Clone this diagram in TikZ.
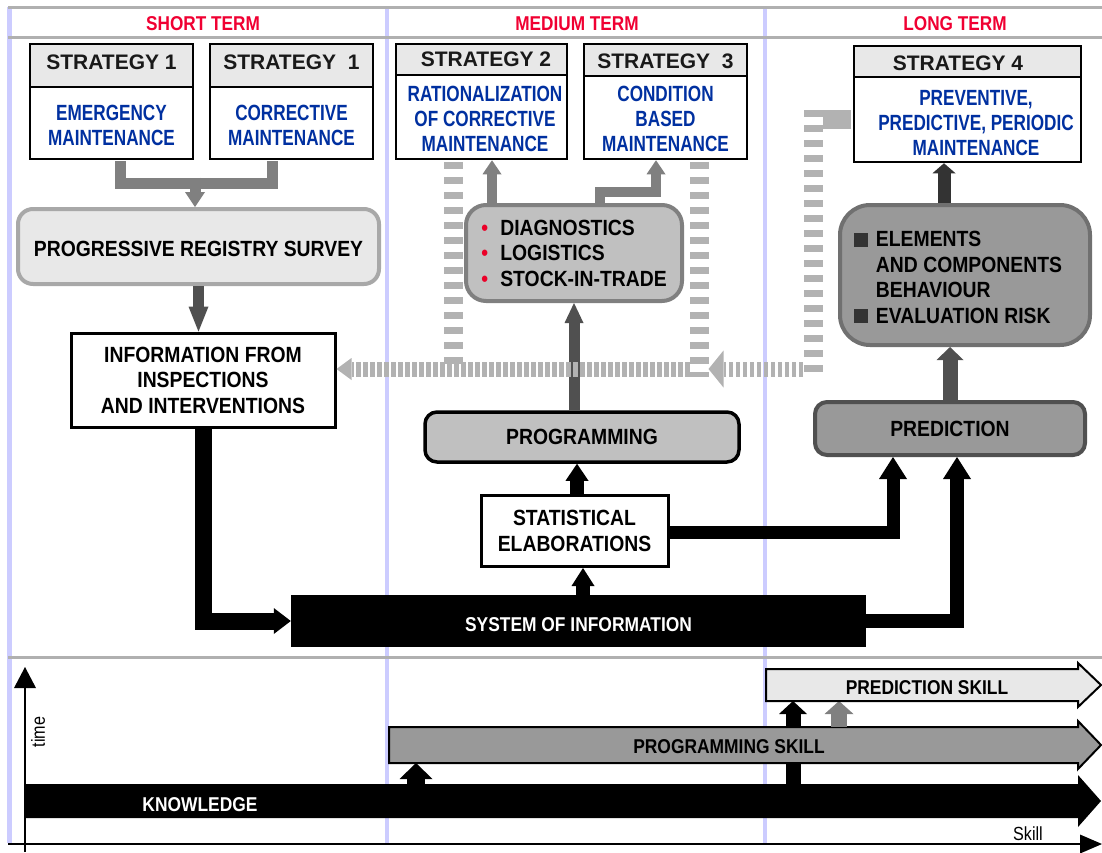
\documentclass[tikz,border=0pt]{standalone}
\usepackage{fontspec}
\setmainfont{Liberation Sans}
\newfontfamily\fwide{Liberation Sans}
\newfontfamily\fbody[FakeStretch=0.88]{Liberation Sans}
\newfontfamily\fband[FakeStretch=0.87]{Liberation Sans}
\newfontfamily\fnarrow[FakeStretch=0.78]{Liberation Sans}
\newfontfamily\fterm[FakeStretch=0.86]{Liberation Sans}
\newfontfamily\faxis[FakeStretch=0.85]{Liberation Sans}
\usetikzlibrary{arrows.meta,calc}

\definecolor{termred}{RGB}{240,0,50}
\definecolor{stratblue}{RGB}{0,48,160}
\definecolor{lane}{RGB}{204,204,255}
\definecolor{rulegray}{RGB}{176,176,176}
\definecolor{hdrfill}{RGB}{232,232,232}
\definecolor{prsborder}{RGB}{168,168,168}
\definecolor{linkgray}{RGB}{128,128,128}
\definecolor{linkdark}{RGB}{80,80,80}
\definecolor{linkdarker}{RGB}{51,51,51}
\definecolor{feedgray}{RGB}{178,178,178}
\definecolor{diagfill}{RGB}{192,192,192}
\definecolor{predfill}{RGB}{153,153,153}
\definecolor{elemborder}{RGB}{112,112,112}
\definecolor{dotred}{RGB}{235,0,40}

\newcommand{\bul}{\makebox[19pt][l]{\textcolor{dotred}{\textbullet}}}
\newcommand{\sqmark}{\makebox[22pt][l]{\textcolor{linkdarker}{\rule{14pt}{14pt}}}}
% shift text vertically without changing its reported size
\newcommand{\lift}[2]{\raisebox{#1}[\height][\depth]{#2}}

\tikzset{
  headed/.style n args={2}{-{Triangle[length=#1,width=#2,line width=0pt]}},
  termlabel/.style={inner sep=0pt, text=termred, font=\fterm\bfseries\fontsize{20}{22}\selectfont},
  hdrbox/.style={draw=black, line width=2.5pt, fill=hdrfill, inner sep=0pt,
    text=black!90, font=\fwide\bfseries\fontsize{21}{25}\selectfont},
  bodybox/.style={draw=black, line width=2.5pt, fill=white, inner sep=0pt},
  bluetext/.style={inner sep=0pt, align=center, text=stratblue,
    font=\fnarrow\bfseries\fontsize{22}{25}\selectfont},
  bodyfont/.style={inner sep=0pt, text=black,
    font=\fbody\bfseries\fontsize{22}{25.5}\selectfont},
  bandtxt/.style={inner sep=0pt, font=\fband\bfseries\fontsize{20}{22}\selectfont},
  axislabel/.style={inner sep=0pt, font=\faxis\fontsize{19}{22}\selectfont},
  vdash/.style={draw=feedgray, line width=19pt, dash pattern=on 7pt off 8pt},
  hdash/.style={draw=feedgray, line width=15pt, dash pattern=on 4.5pt off 2.5pt},
}

\begin{document}
\begin{tikzpicture}[x=1pt,y=-1pt]
\useasboundingbox (0,0) rectangle (1102,852);

% column lanes and horizontal rules
\foreach \lx in {9.5,387,765} \draw[lane, line width=4.5pt] (\lx,7) -- (\lx,843);
\foreach \ly in {7,37,657} \draw[rulegray, line width=3pt] (8,\ly) -- (1102,\ly);

% column headings
\node[termlabel] (tshort) at (203,24) {SHORT TERM};
\node[termlabel] (tmedium) at (577,24) {MEDIUM TERM};
\node[termlabel] (tlong) at (955,24) {LONG TERM};

% strategy boxes
\node[bodybox, minimum width=163pt, minimum height=72pt] (s1b) at (111.5,123) {};
\node[bodybox, minimum width=163pt, minimum height=72pt] (s2b) at (291.5,123) {};
\node[bodybox, minimum width=171pt, minimum height=84pt] (s3b) at (481.5,117) {};
\node[bodybox, minimum width=163pt, minimum height=83pt] (s4b) at (665.5,117.5) {};
\node[bodybox, minimum width=227pt, minimum height=85pt] (s5b) at (967.5,119.5) {};

\node[hdrbox, minimum width=163pt, minimum height=43pt] (s1h) at (111.5,65.5) {\lift{3.5pt}{STRATEGY 1}};
\node[hdrbox, minimum width=163pt, minimum height=43pt] (s2h) at (291.5,65.5) {\lift{3.5pt}{STRATEGY\hspace{6pt} 1}};
\node[hdrbox, minimum width=171pt, minimum height=31pt] (s3h) at (481.5,59.5) {\hspace*{9pt}STRATEGY 2};
\node[hdrbox, minimum width=163pt, minimum height=32pt] (s4h) at (665.5,60) {\lift{-1.5pt}{STRATEGY\hspace{6pt} 3}};
\node[hdrbox, minimum width=227pt, minimum height=31pt] (s5h) at (967.5,61.5) {\hspace*{-19pt}\lift{-1.5pt}{STRATEGY 4}};

\node[bluetext] (s1t) at (111.5,125) {EMERGENCY\\MAINTENANCE};
\node[bluetext] (s2t) at (291.5,125) {CORRECTIVE\\MAINTENANCE};
\node[bluetext] (s3t) at (485,119) {RATIONALIZATION\\OF CORRECTIVE\\MAINTENANCE};
\node[bluetext] (s4t) at (665.5,119) {CONDITION\\BASED\\MAINTENANCE};
\node[bluetext] (s5t) at (976,123.5) {PREVENTIVE,\\PREDICTIVE, PERIODIC\\MAINTENANCE};

% process boxes
\path (198.5,246.5) coordinate (prsc) (203,380) coordinate (infoc)
      (574,253) coordinate (diagc) (965,275) coordinate (elemc)
      (582,437) coordinate (progc) (950,428.5) coordinate (predc)
      (574.5,531) coordinate (statc) (578.5,621) coordinate (sysc);

\node[bodyfont, draw=prsborder, line width=4pt, fill=hdrfill, rounded corners=15pt,
      minimum width=361pt, minimum height=75pt] (prs) at (prsc) {\lift{-2pt}{PROGRESSIVE REGISTRY SURVEY}};

\node[bodyfont, draw=black, line width=3pt, fill=white, align=center,
      minimum width=264pt, minimum height=94pt] (info) at (infoc)
      {INFORMATION FROM\\INSPECTIONS\\AND INTERVENTIONS};

\node[bodyfont, draw=black, line width=3pt, fill=white, align=center,
      minimum width=187pt, minimum height=71pt] (stat) at (statc)
      {STATISTICAL\\ELABORATIONS};

\node[bandtxt, fill=black, text=white, minimum width=575pt, minimum height=52pt]
      (sys) at (sysc) {\lift{-4pt}{SYSTEM OF INFORMATION}};

% links between the boxes
\coordinate (join1) at (195,183);
\draw[linkgray, line width=11pt] ($(s1b.south)+(8.5,1)$) |- (join1);
\draw[linkgray, line width=11pt] ($(s2b.south)+(-19.5,1)$) |- (join1);
\draw[linkgray, line width=11pt, headed={15pt}{20pt}] ($(join1)+(0,-5.5)$) -- (join1 |- prs.north);

\draw[linkdark, line width=11pt, headed={25pt}{20pt}] (prs.south) -- (prs.south |- info.north);
\draw[black, line width=17pt, headed={17pt}{26pt}] (info.south) |- (sys.west);

\node[bodyfont, draw=black, line width=3.5pt, fill=diagfill, rounded corners=12pt,
      minimum width=314pt, minimum height=50pt] (prog) at (progc) {PROGRAMMING};
\node[bodyfont, draw=linkdark, line width=4pt, fill=predfill, rounded corners=12pt,
      minimum width=270pt, minimum height=53pt] (pred) at (predc) {PREDICTION};

\draw[black, line width=14pt, headed={17pt}{23pt}] ($(stat.north)+(2.5,0)$) -- ($(prog.south)+(-5,0)$);
\draw[black, line width=14pt, headed={18pt}{23pt}] ($(sys.north)+(4.5,0)$) -- ($(stat.south)+(8.5,0)$);
\draw[black, line width=13pt, headed={22pt}{28pt}] ($(stat.east)+(0,1)$) -| ($(pred.south)+(-57,0)$);
\draw[black, line width=14pt, headed={22pt}{28pt}] (sys.east) -| ($(pred.south)+(7,0)$);

\node[bodyfont, draw=linkgray, line width=4pt, fill=diagfill, rounded corners=20pt, align=left,
      minimum width=216pt, minimum height=96pt] (diag) at (diagc)
      {\bul DIAGNOSTICS\\\bul LOGISTICS\\\bul STOCK-IN-TRADE};
\node[draw=elemborder, line width=4pt, fill=predfill, rounded corners=30pt,
      minimum width=250pt, minimum height=140pt] (elem) at (elemc) {};
\node[bodyfont, align=left] (elemt) at (958,277.5)
      {\sqmark ELEMENTS\\\hspace*{22pt}AND COMPONENTS\\\hspace*{22pt}BEHAVIOUR\\\sqmark EVALUATION RISK};

\draw[linkdark, line width=11pt, headed={20pt}{19pt}] ($(prog.north)+(-8,0)$) -- (diag.south);
\draw[linkgray, line width=10pt, headed={14pt}{19pt}] ($(diag.north)+(-82,0)$) -- ($(s3b.south)+(10.5,0)$);
\coordinate (bend4) at (656,192);
\draw[linkgray, line width=10pt, headed={14pt}{19pt}] ($(diag.north)+(26,0)$) |- (bend4) -- (bend4 |- s4b.south);
\draw[linkdark, line width=15pt, headed={13pt}{27pt}] (pred.north) -- (pred.north |- elem.south);
\draw[linkdarker, line width=13pt, headed={10pt}{23pt}] ($(elem.north)+(-21,0)$) -- ($(s5b.south)+(-23.5,0)$);

% feedback from the strategies to the inspection records
\coordinate (fC) at (453,369);
\coordinate (fB) at (699,369);
\coordinate (fA1) at (813,119.5);
\coordinate (fA2) at (813,369);
\draw[vdash] ($(s3b.south -| fC)+(0,1.5)$) -- (fC);
\draw[vdash] ($(s4b.south -| fB)+(0,1.5)$) -- ($(fB)+(0,8)$);
\draw[hdash, headed={15pt}{22pt}] ($(fB)+(-9.5,0)$) -- (fB -| info.east);
\draw[feedgray, line width=19pt] ($(s5b.west)+(-1.5,0)$) -- ($(fA1)+(10,0)$);
\draw[vdash] ($(fA1)+(0,-9.5)$) -- ($(fA2)+(0,9)$);
\draw[hdash, headed={15pt}{37pt}] ($(fA2)+(-10,0)$) -- ($(fB)+(9.5,0)$);

% skill bands
\coordinate (knA) at (416,784); \coordinate (psA) at (416,763);
\coordinate (knB) at (793,784); \coordinate (prB) at (793,701);
\coordinate (psC) at (839,727); \coordinate (prC) at (839,701);
\fill[black] (25,784) -- (1078,784) -- (1078,775) -- (1101,801) -- (1078,827) -- (1078,818) -- (25,818) -- cycle;
\draw[black, line width=15pt, headed={13pt}{28pt}] (knB) -- (prB);
\draw[black, line width=2pt, fill=predfill, line join=miter]
  (389,727) -- (1078,727) -- (1078,721) -- (1101,745) -- (1078,769) -- (1078,763) -- (389,763) -- cycle;
\draw[linkgray, line width=16pt, headed={13pt}{29pt}] (psC) -- (prC);
\draw[black, line width=2pt, fill=hdrfill, line join=miter]
  (766,669) -- (1078,669) -- (1078,663) -- (1101,685) -- (1078,707) -- (1078,701) -- (766,701) -- cycle;
\draw[black, line width=18pt, headed={16pt}{33pt}] (knA) -- (psA);

\node[bandtxt, text=white] (knowtxt) at (200,805) {KNOWLEDGE};
\node[bandtxt] (progtxt) at (729,747) {PROGRAMMING SKILL};
\node[bandtxt] (predtxt) at (927,688) {PREDICTION SKILL};

% axes
\coordinate (tbot) at (25,852); \coordinate (ttop) at (25,667);
\coordinate (sleft) at (8,844); \coordinate (sright) at (1102,844);
\draw[black, line width=2pt, headed={21pt}{22pt}] (tbot) -- (ttop);
\draw[black, line width=2pt, headed={22pt}{19pt}] (sleft) -- (sright);
\node[axislabel, rotate=90] (timelbl) at (38,732) {time};
\node[axislabel] (skilllbl) at (1028,834) {Skill};
\end{tikzpicture}
\end{document}
